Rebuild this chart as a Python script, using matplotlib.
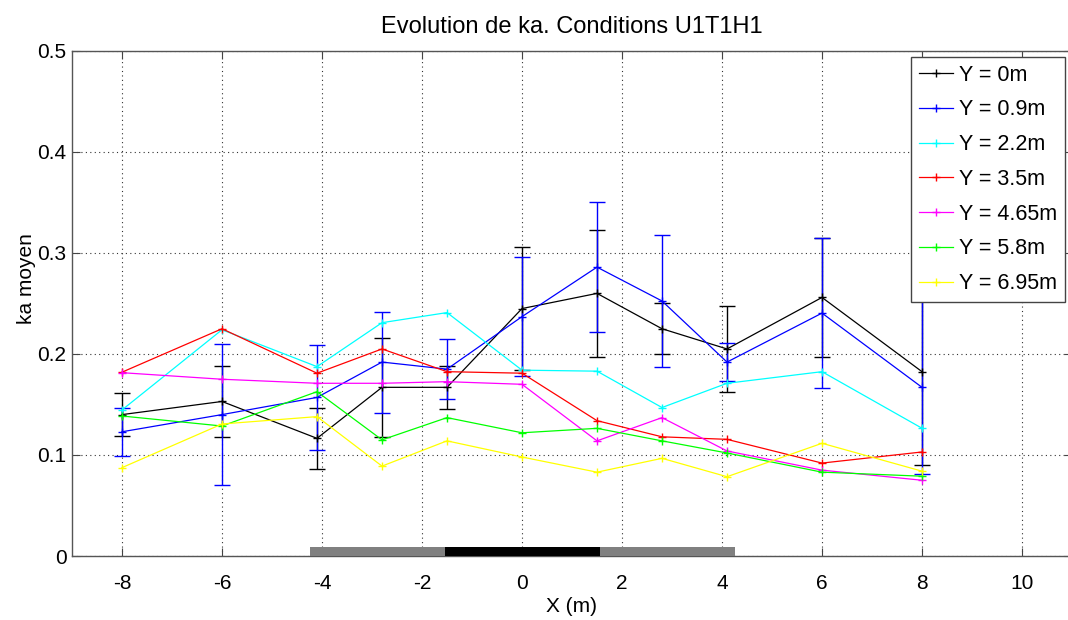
import matplotlib
matplotlib.use("Agg")
import matplotlib.pyplot as plt
from matplotlib.patches import Rectangle

plt.rcParams['font.family'] = ['Liberation Sans', 'DejaVu Sans']

# Data
x = [-8, -6, -4.1, -2.8, -1.5, 0, 1.5, 2.8, 4.1, 6, 8]
y_0 = [0.140, 0.153, 0.1165, 0.167, 0.167, 0.245, 0.260, 0.225, 0.205, 0.256, 0.1825]
err_0 = [0.021, 0.035, 0.030, 0.049, 0.021, 0.061, 0.063, 0.025, 0.043, 0.059, 0.0925]
y_09 = [0.123, 0.140, 0.157, 0.192, 0.185, 0.237, 0.286, 0.2525, 0.192, 0.2405, 0.167]
err_09 = [0.024, 0.070, 0.052, 0.050, 0.030, 0.059, 0.064, 0.065, 0.019, 0.074, 0.086]
y_22 = [0.1446, 0.224, 0.1875, 0.231, 0.241, 0.184, 0.183, 0.147, 0.171, 0.1825, 0.1265]
y_35 = [0.182, 0.225, 0.181, 0.205, 0.1825, 0.181, 0.134, 0.118, 0.1155, 0.092, 0.103]
y_465 = [0.1815, 0.175, 0.171, 0.171, 0.1726, 0.170, 0.114, 0.137, 0.104, 0.085, 0.075]
y_58 = [0.1386, 0.1287, 0.1627, 0.115, 0.137, 0.122, 0.1264, 0.114, 0.102, 0.083, 0.079]
y_695 = [0.0875, 0.1307, 0.138, 0.089, 0.114, 0.098, 0.083, 0.0967, 0.0785, 0.1116, 0.084]

labels = ['Y = 0m', 'Y = 0.9m', 'Y = 2.2m', 'Y = 3.5m', 'Y = 4.65m', 'Y = 5.8m', 'Y = 6.95m']
colors = ['#000000', '#0000ff', '#00ffff', '#ff0000', '#ff00ff', '#00ff00', '#ffff00']
series = [y_0, y_09, y_22, y_35, y_465, y_58, y_695]
errors = [err_0, err_09, None, None, None, None, None]

xticks = [-8, -6, -4, -2, 0, 2, 4, 6, 8, 10]
yticks = [0, 0.1, 0.2, 0.3, 0.4, 0.5]
ytick_labels = ['0', '0.1', '0.2', '0.3', '0.4', '0.5']

# Bridge / structure bar on the x axis
bar_gray = [(-4.25, -1.55), (1.55, 4.25)]
bar_black = [(-1.55, 1.55)]

fig = plt.figure(figsize=(10.68, 6.2), dpi=100)
ax = fig.add_axes([72 / 1068, 1 - 556 / 620, 1000 / 1068, 505 / 620])

handles = []
for ys, er, c, lab in zip(series, errors, colors, labels):
    if er is not None:
        ax.errorbar(x, ys, yerr=er, fmt='none', ecolor=c, elinewidth=1.0,
                    capsize=6, capthick=1.0, zorder=3)
    h, = ax.plot(x, ys, color=c, lw=0.9, marker='+', markersize=6,
                 markeredgewidth=1.0, label=lab, zorder=4)
    handles.append(h)

for a, b in bar_gray:
    ax.add_patch(Rectangle((a, 0), b - a, 0.0085, facecolor='#808080',
                           edgecolor='none', zorder=5))
for a, b in bar_black:
    ax.add_patch(Rectangle((a, 0), b - a, 0.0085, facecolor='#000000',
                           edgecolor='none', zorder=5))

ax.set_xlim(-9, 11)
ax.set_ylim(0, 0.5)
ax.set_xticks(xticks)
ax.set_xticklabels([str(t) for t in xticks])
ax.set_yticks(yticks)
ax.set_yticklabels(ytick_labels)
ax.grid(True, linestyle=(0, (1, 3)), color='#333333', linewidth=0.8)
ax.set_axisbelow(True)
ax.tick_params(direction='in', length=6, width=0.8, top=True, right=True,
               labelsize=15, color='#444444')
ax.tick_params(axis='x', pad=13)
ax.tick_params(axis='y', pad=4)
for s in ax.spines.values():
    s.set_color('#555555')
    s.set_linewidth(1.0)

ax.set_title('Evolution de ka. Conditions U1T1H1', fontsize=17, pad=13)
ax.set_xlabel('X (m)', fontsize=15, labelpad=3)
ax.set_ylabel('ka moyen', fontsize=15)
ax.yaxis.set_label_coords(-0.036, 0.55)

leg = fig.legend(handles=handles, loc='upper left',
                 bbox_to_anchor=(911 / 1068, 1 - 57 / 620), borderaxespad=0,
                 fontsize=15.5, frameon=True, fancybox=False, framealpha=1,
                 edgecolor='#444444', handlelength=1.6, handletextpad=0.3,
                 labelspacing=0.64, borderpad=0.35)
leg.get_frame().set_linewidth(1.0)
leg.set_zorder(10)

fig.savefig('out.png', dpi=100)
